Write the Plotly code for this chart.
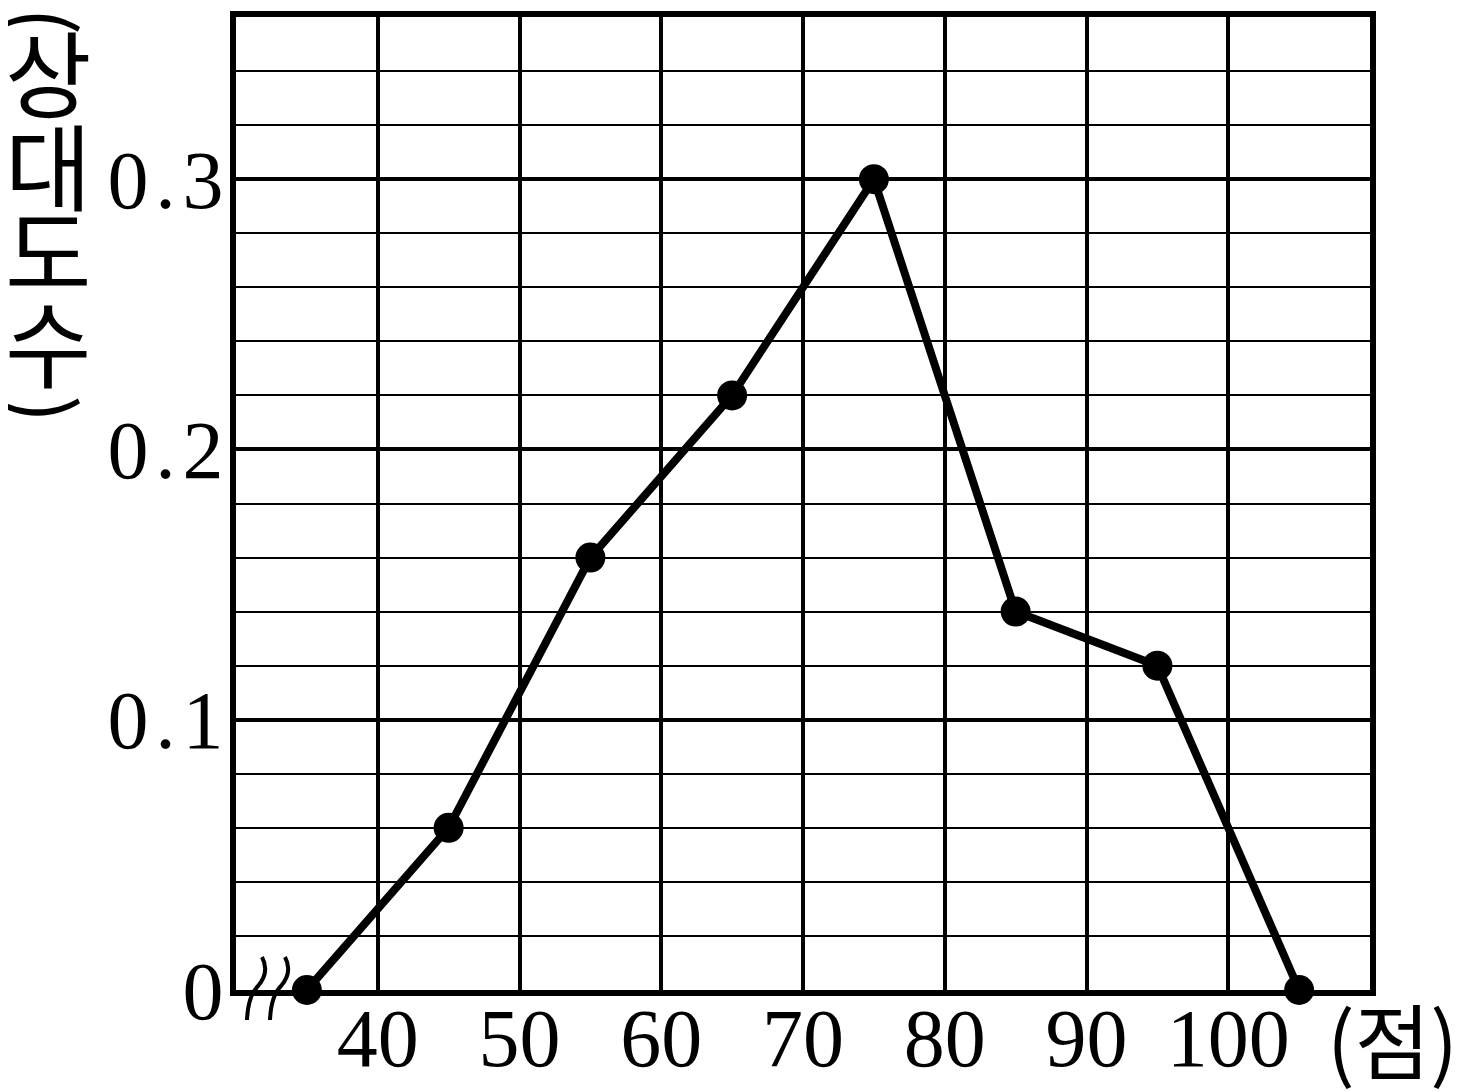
import plotly.graph_objects as go

# data
scores = [35, 45, 55, 65, 75, 85, 95, 105]
rel_freq = [0.0, 0.06, 0.16, 0.22, 0.30, 0.14, 0.12, 0.0]
x_ticks = [40, 50, 60, 70, 80, 90, 100]
x_ticktext = ["40", "50", "60", "70", "80", "90", "100"]
y_ticks = [0.0, 0.1, 0.2, 0.3]
y_ticktext = ["0", "0\u200a.\u200a1", "0\u200a.\u200a2", "0\u200a.\u200a3"]
y_title_chars = ["(", "상", "대", "도", "수", ")"]
x_unit = "(점)"

OFF = 8  # page body margin
W, H = 1474 - OFF, 1092 - OFF
# target plot area in page pixels: x 236..1370, y 17..990
X0, X1, Y0, Y1 = 236, 1370, 17, 990
L, T = X0 - OFF, Y0 - OFF
R = (OFF + W) - X1
B = (OFF + H) - Y1
PW, PH = W - L - R, H - T - B

def px(xp, yp):
    return (xp - X0) / PW, (Y1 - yp) / PH

serif = "Liberation Serif, DejaVu Serif, serif"
kr = "Noto Sans CJK KR, sans-serif"

fig = go.Figure()
fig.add_trace(go.Scatter(
    x=scores, y=rel_freq, mode="lines+markers",
    line=dict(color="black", width=8),
    marker=dict(color="black", size=30),
    cliponaxis=False, showlegend=False,
))

fig.update_layout(
    width=W, height=H,
    margin=dict(l=L, r=R, t=T, b=B, pad=0, autoexpand=False),
    paper_bgcolor="white", plot_bgcolor="white",
    font=dict(family=serif, color="black"),
)
fig.update_xaxes(
    range=[30, 110], tickvals=x_ticks, ticktext=x_ticktext,
    showgrid=True, gridcolor="black", gridwidth=4,
    showline=True, linecolor="black", linewidth=6, mirror=True,
    ticks="", tickfont=dict(family=serif, size=82, color="black"),
    ticklabelstandoff=-28,
    zeroline=False, fixedrange=True, automargin=False,
)
fig.update_yaxes(
    range=[0, 0.36], tickvals=y_ticks, ticktext=y_ticktext,
    showgrid=True, gridcolor="black", gridwidth=4,
    minor=dict(dtick=0.02, tick0=0, showgrid=True, gridcolor="black", gridwidth=2, ticks=""),
    showline=True, linecolor="black", linewidth=6, mirror=True,
    ticks="", tickfont=dict(family=serif, size=82, color="black"),
    ticklabelstandoff=-10,
    zeroline=False, fixedrange=True, automargin=False,
)

# vertical y-axis title, one character per line (parentheses turned to read vertically)
ys = [21, 70, 163, 248, 340, 409]
for ch, yp in zip(y_title_chars, ys):
    xa, ya = px(48, yp)
    rot = 90 if ch in "()" else 0
    fig.add_annotation(x=xa, y=ya, xref="paper", yref="paper", text=ch,
                       textangle=rot,
                       showarrow=False, borderpad=0,
                       font=dict(family=kr, size=84 if rot else 94, color="black"),
                       xanchor="center", yanchor="middle")

# x unit label
xa, ya = px(1392, 1037)
fig.add_annotation(x=xa, y=ya, xref="paper", yref="paper", text=x_unit,
                   showarrow=False, font=dict(family=kr, size=82, color="black"),
                   xanchor="center", yanchor="middle")

# axis break symbol
def path(pts):
    (x0, y0), (c1x, c1y), (x1, y1), (c2x, c2y), (x2, y2) = [px(a, b) for a, b in pts]
    return f"M {x0},{y0} Q {c1x},{c1y} {x1},{y1} Q {c2x},{c2y} {x2},{y2}"

for dx in (0, 23):
    pts = [(247 + dx, 1020), (248 + dx, 996), (258 + dx, 986), (270 + dx, 972), (262 + dx, 957)]
    fig.add_shape(type="path", xref="paper", yref="paper", path=path(pts),
                  line=dict(color="black", width=4))

fig.write_html("out.html")
